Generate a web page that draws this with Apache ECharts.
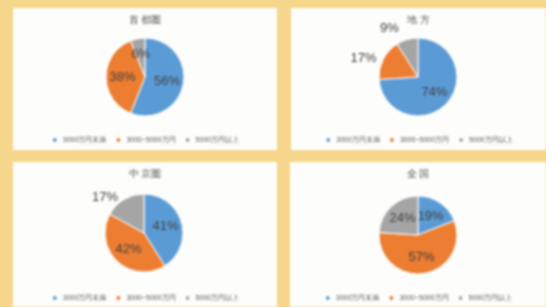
<!DOCTYPE html>
<html>
<head>
<meta charset="utf-8">
<script src="https://cdn.jsdelivr.net/npm/echarts@6/dist/echarts.min.js"></script>
<style>
  html,body{margin:0;padding:0;}
  body{width:546px;height:307px;background:#f6d68a;position:relative;overflow:hidden;
       font-family:"Noto Sans CJK JP",sans-serif;}
  .pnl{position:absolute;background:#fdfdfb;filter:blur(1px);}
</style>
</head>
<body>
<div class="pnl" id="c0" style="left:13px;top:8px;width:264px;height:142px"></div>
<div class="pnl" id="c1" style="left:291px;top:8px;width:255px;height:142px"></div>
<div class="pnl" id="c2" style="left:13px;top:162px;width:264px;height:145px"></div>
<div class="pnl" id="c3" style="left:290px;top:162px;width:256px;height:145px"></div>
<script>
var titles = ['首 都圏', '地 方', '中 京圏', '全 国'];
var classes = ['3000万円未満', '3000~5000万円', '5000万円以上'];
var share0 = [56, 38, 6];
var share1 = [74, 17, 9];
var share2 = [41, 42, 17];
var share3 = [19, 57, 24];
var shares = [share0, share1, share2, share3];
// slices whose label sits outside the pie: [slice, gap]
var outside = [[], [[1, 2], [2, 12]], [[2, 2]], []];

var colors = ['#5b9bd5', '#ed7d31', '#a5a5a5'];
var centers = [[132, 69], [127, 69], [131, 71], [128, 73]];
var legendTop = [123, 123, 127, 127];

for (var k = 0; k < 4; k++) {
	var chart = echarts.init(document.getElementById('c' + k));
	var data = [];
	for (var i = 0; i < classes.length; i++) {
		var d = {name: classes[i], value: shares[k][i]};
		var out = outside[k].filter(function(o){ return o[0] == i; });
		if (out.length) {
			d.label = {position: 'outside', fontSize: 13};
			d.labelLine = {show: false, length: out[0][1], length2: 0};
		}
		data.push(d);
	}
	chart.setOption({
		color: colors,
		animation: false,
		title: {
			text: titles[k],
			left: 'center',
			top: 2,
			textStyle: {fontSize: 10, fontWeight: 'normal', color: '#595959'}
		},
		legend: {
			data: classes,
			top: legendTop[k],
			left: 'center',
			icon: 'circle',
			itemWidth: 6,
			itemHeight: 6,
			itemGap: 8,
			textStyle: {fontSize: 7, color: '#595959'}
		},
		series: [{
			type: 'pie',
			center: centers[k],
			radius: 39,
			startAngle: 90,
			clockwise: true,
			itemStyle: {borderColor: '#ffffff', borderWidth: 1},
			label: {
				show: true,
				position: 'inside',
				formatter: '{d}%',
				fontSize: 13,
				color: '#404040'
			},
			labelLine: {show: false},
			data: data
		}]
	});
}
</script>
</body>
</html>
